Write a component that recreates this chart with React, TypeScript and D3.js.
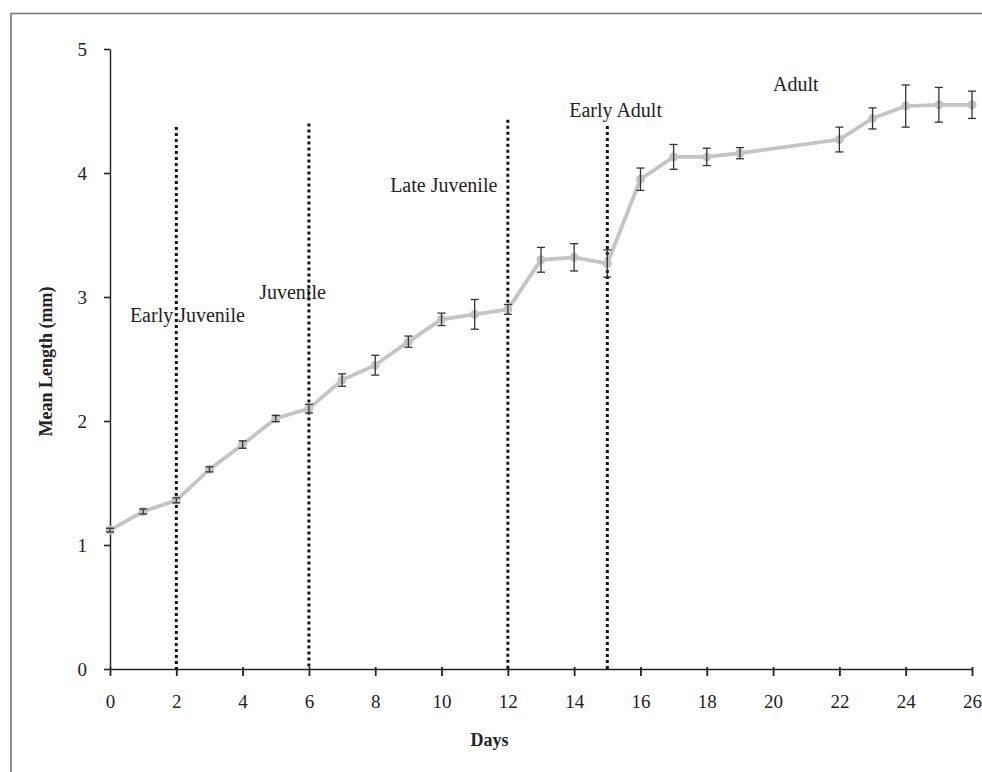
import { useEffect, useRef } from 'react';
import * as d3 from 'd3';

// measured values
const days = [0, 1, 2, 3, 4, 5, 6, 7, 8, 9, 10, 11, 12, 13, 14, 15, 16, 17, 18, 19, 22, 23, 24, 25, 26];
const meanLength = [1.12, 1.27, 1.36, 1.61, 1.81, 2.02, 2.1, 2.33, 2.45, 2.64, 2.82, 2.86, 2.9, 3.3, 3.32, 3.27, 3.95, 4.13, 4.13, 4.16, 4.27, 4.44, 4.54, 4.55, 4.55];
const errors = [0.015, 0.02, 0.02, 0.02, 0.03, 0.025, 0.035, 0.05, 0.08, 0.045, 0.05, 0.12, 0.04, 0.1, 0.11, 0.11, 0.09, 0.1, 0.07, 0.045, 0.1, 0.085, 0.17, 0.14, 0.11];

const xTicks = [0, 2, 4, 6, 8, 10, 12, 14, 16, 18, 20, 22, 24, 26];
const yTicks = [0, 1, 2, 3, 4, 5];

const boundaryDays = [2, 6, 12, 15];
const boundaryTops = [4.37, 4.4, 4.43, 4.38];

const stageNames = ['Early Juvenile', 'Juvenile', 'Late Juvenile', 'Early Adult', 'Adult'];
const stageX = [0.6, 4.5, 8.45, 13.85, 20.0];
const stageY = [2.8, 2.98, 3.85, 4.45, 4.66];

const serif = 'Liberation Serif, Times New Roman, serif';

const App = () => {
  const svgRef = useRef<SVGSVGElement>(null);

  useEffect(() => {
    const svg = d3.select(svgRef.current);
    svg.selectAll('*').remove();

    const x = d3.scaleLinear().domain([0, 26]).range([110, 972]);
    const y = d3.scaleLinear().domain([0, 5]).range([669, 49]);

    // outer frame (top + left only visible)
    svg.append('path')
      .attr('d', 'M11,990 L11,13.5 L990,13.5')
      .attr('fill', 'none')
      .attr('stroke', '#777')
      .attr('stroke-width', 1.6);

    // y axis
    const yAxis = svg.append('g')
      .attr('transform', 'translate(110,0)')
      .call(d3.axisLeft(y).tickValues(yTicks).tickFormat(d3.format('d')).tickSize(6).tickPadding(17).tickSizeOuter(0));
    yAxis.select('.domain').attr('stroke', '#222').attr('stroke-width', 1.4);
    yAxis.selectAll('.tick line').attr('stroke', '#222').attr('stroke-width', 1.6);
    yAxis.selectAll('.tick text')
      .attr('font-family', serif)
      .attr('font-size', 19)
      .attr('fill', '#222');

    // x axis
    const xAxis = svg.append('g')
      .attr('transform', 'translate(0,669)')
      .call(d3.axisBottom(x).tickValues(xTicks).tickFormat(d3.format('d')).tickSize(7).tickPadding(19).tickSizeOuter(0));
    xAxis.select('.domain').attr('stroke', '#222').attr('stroke-width', 1.4);
    xAxis.selectAll('.tick line').attr('stroke', '#222').attr('stroke-width', 1.8).attr('y1', -2);
    xAxis.selectAll('.tick text')
      .attr('font-family', serif)
      .attr('font-size', 19)
      .attr('fill', '#222');

    // axis titles
    svg.append('text')
      .attr('x', x(11.45))
      .attr('y', 746)
      .attr('text-anchor', 'middle')
      .attr('font-family', serif)
      .attr('font-weight', 'bold')
      .attr('font-size', 18)
      .attr('fill', '#222')
      .text('Days');

    svg.append('text')
      .attr('transform', `translate(52,${y(2.48)}) rotate(-90)`)
      .attr('text-anchor', 'middle')
      .attr('font-family', serif)
      .attr('font-weight', 'bold')
      .attr('font-size', 18)
      .attr('fill', '#222')
      .text('Mean Length (mm)');

    // stage labels
    svg.selectAll('.stage')
      .data(stageNames)
      .enter()
      .append('text')
      .attr('x', (_, i) => x(stageX[i]))
      .attr('y', (_, i) => y(stageY[i]))
      .attr('font-family', serif)
      .attr('font-size', 20)
      .attr('fill', '#222')
      .text((d) => d);

    // dotted stage boundaries
    svg.selectAll('.boundary')
      .data(boundaryDays)
      .enter()
      .append('line')
      .attr('x1', (d) => x(d))
      .attr('x2', (d) => x(d))
      .attr('y1', (_, i) => y(boundaryTops[i]))
      .attr('y2', y(0))
      .attr('stroke', '#111')
      .attr('stroke-width', 3)
      .attr('stroke-dasharray', '3,3');

    const pts = days.map((d, i) => ({ d, v: meanLength[i], e: errors[i] }));

    // line
    const line = d3.line<{ d: number; v: number }>()
      .x((p) => x(p.d))
      .y((p) => y(p.v));
    svg.append('path')
      .datum(pts)
      .attr('d', line)
      .attr('fill', 'none')
      .attr('stroke', '#c4c4c4')
      .attr('stroke-width', 3.8);

    // markers
    svg.selectAll('.pt')
      .data(pts)
      .enter()
      .append('circle')
      .attr('cx', (p) => x(p.d))
      .attr('cy', (p) => y(p.v))
      .attr('r', 4.5)
      .attr('fill', '#c4c4c4');

    // error bars
    const eb = svg.selectAll('.eb')
      .data(pts)
      .enter()
      .append('g')
      .attr('stroke', '#333')
      .attr('stroke-width', 1.3);
    eb.append('line')
      .attr('x1', (p) => x(p.d))
      .attr('x2', (p) => x(p.d))
      .attr('y1', (p) => y(p.v - p.e))
      .attr('y2', (p) => y(p.v + p.e));
    eb.append('line')
      .attr('x1', (p) => x(p.d) - 4)
      .attr('x2', (p) => x(p.d) + 4)
      .attr('y1', (p) => y(p.v + p.e))
      .attr('y2', (p) => y(p.v + p.e));
    eb.append('line')
      .attr('x1', (p) => x(p.d) - 4)
      .attr('x2', (p) => x(p.d) + 4)
      .attr('y1', (p) => y(p.v - p.e))
      .attr('y2', (p) => y(p.v - p.e));
  }, []);

  return (
    <svg
      ref={svgRef}
      width={982}
      height={772}
      style={{ position: 'absolute', left: 0, top: 0, background: '#fff' }}
    />
  );
};

export default App;
